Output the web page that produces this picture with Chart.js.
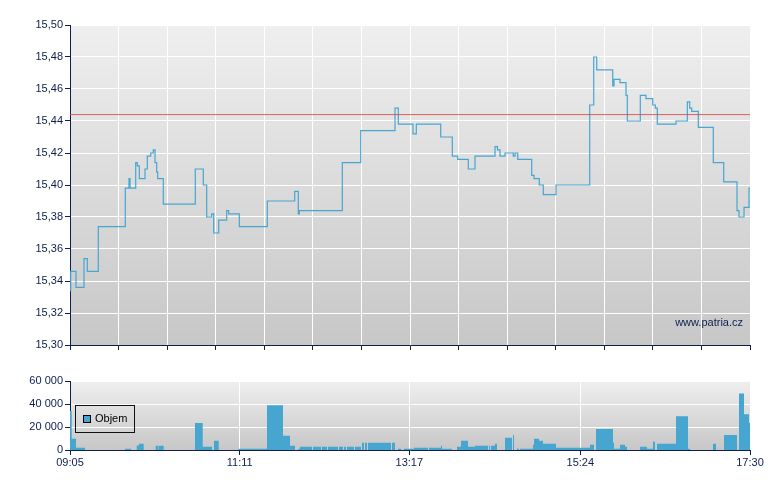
<!DOCTYPE html>
<html>
<head>
<meta charset="utf-8">
<script src="https://cdn.jsdelivr.net/npm/chart.js@4.4.0/dist/chart.umd.min.js"></script>
<style>
  body { margin: 0; background: #fff; }
  #wrap { position: relative; width: 780px; height: 490px; font-family: "Liberation Sans", Arial, sans-serif; }
  canvas { position: absolute; left: 0; }
  #legend { position: absolute; left: 75px; top: 405px; width: 58px; height: 26px; border: 1px solid #111; font-size: 11px; color: #000; }
  #legend span.box { position: absolute; left: 7px; top: 9px; width: 6px; height: 6px; background: #46a6d0; border: 1px solid #000; }
  #legend span.txt { position: absolute; left: 19px; top: 6px; }
  #source { position: absolute; right: 37px; top: 316px; font-size: 11px; color: #0c1f4f; }
</style>
</head>
<body>
<div id="wrap">
  <canvas id="priceChart" width="780" height="360" style="top:0"></canvas>
  <canvas id="volChart" width="780" height="130" style="top:360px"></canvas>
  <div id="legend"><span class="box"></span><span class="txt">Objem</span></div>
  <div id="source">www.patria.cz</div>
</div>
<script>
// kurz - casy zmen a ceny
var priceTimes = [
  "09:05:00", "09:05:31", "09:09:27", "09:15:24", "09:17:51", "09:26:01", "09:46:04", "09:48:49",
  "09:49:34", "09:53:48", "09:54:59", "09:56:28", "10:00:42", "10:02:24", "10:04:56", "10:06:52",
  "10:08:08", "10:09:23", "10:10:08", "10:14:17", "10:38:03", "10:44:00", "10:46:31", "10:50:14",
  "10:51:43", "10:55:26", "11:01:22", "11:02:52", "11:10:44", "11:31:32", "11:51:53", "11:54:33",
  "11:55:18", "12:27:14", "12:40:54", "13:06:22", "13:08:49", "13:19:44", "13:22:11", "13:40:19",
  "13:48:55", "13:52:56", "14:00:48", "14:05:47", "14:20:38", "14:22:29", "14:24:21", "14:28:04",
  "14:34:13", "14:35:29", "14:37:30", "14:47:53", "14:49:36", "14:53:32", "14:56:30", "15:05:56",
  "15:30:58", "15:33:56", "15:36:10", "15:48:03", "15:49:01", "15:53:28", "15:57:55", "15:58:53",
  "16:08:32", "16:12:46", "16:17:45", "16:19:41", "16:21:10", "16:35:03", "16:43:27", "16:45:14",
  "16:46:43", "16:51:37", "17:02:45", "17:10:29", "17:20:21", "17:21:50", "17:25:33", "17:29:16",
  "17:30:00"
];
var prices = [
  15.334, 15.346, 15.336, 15.354, 15.346, 15.374, 15.398, 15.404,
  15.398, 15.414, 15.412, 15.404, 15.410, 15.418, 15.420, 15.422,
  15.414, 15.408, 15.404, 15.388, 15.410, 15.400, 15.380, 15.382,
  15.370, 15.378, 15.384, 15.382, 15.374, 15.390, 15.396, 15.382,
  15.384, 15.414, 15.434, 15.448, 15.438, 15.432, 15.438, 15.430,
  15.418, 15.416, 15.410, 15.418, 15.424, 15.422, 15.418, 15.420,
  15.418, 15.420, 15.416, 15.406, 15.404, 15.400, 15.394, 15.400,
  15.450, 15.480, 15.472, 15.462, 15.466, 15.464, 15.456, 15.440,
  15.456, 15.454, 15.450, 15.448, 15.438, 15.440, 15.452, 15.448,
  15.446, 15.436, 15.414, 15.402, 15.384, 15.380, 15.386, 15.398,
  15.398
];
var prevClose = 15.444;

// objem obchodu
var volTimes = [
  "09:05:00", "09:06:16", "09:09:27", "09:16:08", "09:45:51", "09:50:18", "09:54:32", "09:56:15",
  "09:59:44", "10:08:39", "10:10:44", "10:11:06", "10:14:35", "10:37:50", "10:43:33", "10:50:28",
  "10:51:57", "10:55:26", "11:10:08", "11:31:18", "11:43:11", "11:48:23", "11:52:06", "11:54:33",
  "11:55:49", "12:04:43", "12:05:28", "12:11:24", "12:12:09", "12:15:52", "12:16:36", "12:24:02",
  "12:24:47", "12:27:45", "12:28:29", "12:29:59", "12:30:43", "12:35:55", "12:36:40", "12:41:07",
  "12:41:52", "12:43:21", "12:44:05", "12:45:34", "12:46:19", "13:03:24", "13:04:08", "13:06:22",
  "13:08:36", "13:10:49", "13:13:03", "13:20:29", "13:30:53", "13:31:37", "13:40:32", "13:41:16",
  "13:48:42", "13:52:25", "13:55:23", "14:00:35", "14:05:47", "14:15:26", "14:16:11", "14:16:55",
  "14:17:40", "14:20:38", "14:22:07", "14:28:04", "14:33:16", "14:34:01", "14:34:45", "14:36:59",
  "14:38:28", "14:39:12", "14:48:51", "14:49:36", "14:53:18", "14:56:17", "15:05:56", "15:31:11",
  "15:34:09", "15:35:38", "15:48:16", "15:49:01", "15:53:28", "15:57:11", "15:58:40", "16:08:19",
  "16:13:31", "16:17:58", "16:19:28", "16:20:57", "16:35:03", "16:43:58", "16:45:27", "17:02:32",
  "17:04:46", "17:10:42", "17:20:21", "17:21:50", "17:25:33", "17:29:16", "17:30:00"
];
var volumes = [
  34000, 9700, 2000, 0, 1100, 0, 4000, 5400,
  0, 3700, 0, 3700, 0, 23400, 2900, 0,
  8000, 0, 1100, 38900, 12300, 3700, 0, 1100,
  2900, 0, 2900, 0, 2900, 0, 2900, 0,
  2900, 0, 2900, 0, 2900, 0, 2900, 0,
  6300, 0, 6300, 0, 6300, 0, 6300, 0,
  1100, 0, 1100, 2000, 0, 2000, 3700, 1100,
  0, 2900, 8000, 2900, 3700, 0, 3700, 0,
  3700, 5400, 0, 10600, 0, 13100, 0, 1100,
  0, 1100, 4600, 9700, 8000, 5400, 2000, 4600,
  0, 18300, 6300, 1100, 4600, 2900, 0, 2900,
  1100, 7100, 0, 5400, 29400, 1100, 0, 5400,
  0, 13100, 0, 49100, 31100, 23400, 23400
];

var timeLabels = ["09:05", "11:11", "13:17", "15:24", "17:30"];

var navy = "#0c1f4f";
var blue = "#46a6d0";
var fontDef = { family: "'Liberation Sans', Arial, sans-serif", size: 11 };

function toMin(t) {
  var p = t.split(":");
  return parseInt(p[0]) * 60 + parseInt(p[1]) + (p[2] ? parseInt(p[2]) / 60 : 0) - (9 * 60 + 5);
}

var dayLen = toMin(timeLabels[timeLabels.length - 1]);

function points(ts, vs) {
  var out = [];
  for (var i = 0; i < ts.length; i++) {
    out.push({ x: toMin(ts[i]), y: vs[i] });
  }
  return out;
}

var bgGradient = {
  id: "bgGradient",
  beforeDraw: function (chart) {
    var a = chart.chartArea;
    var ctx = chart.ctx;
    var g = ctx.createLinearGradient(0, a.top, 0, a.bottom);
    g.addColorStop(0, "#efefef");
    g.addColorStop(1, "#c7c7c7");
    ctx.save();
    ctx.fillStyle = g;
    ctx.fillRect(a.left, a.top, a.right - a.left, a.bottom - a.top);
    ctx.restore();
  }
};

Chart.defaults.font = fontDef;
Chart.defaults.color = navy;

// graf kurzu
new Chart(document.getElementById("priceChart").getContext("2d"), {
  type: "line",
  data: {
    datasets: [
      {
        data: [{ x: 0, y: prevClose }, { x: dayLen, y: prevClose }],
        borderColor: "rgba(214, 70, 70, 0.85)",
        borderWidth: 1,
        pointRadius: 0,
      },
      {
        data: points(priceTimes, prices),
        stepped: true,
        borderColor: blue,
        borderWidth: 1.2,
        pointRadius: 0,
      },
    ],
  },
  options: {
    responsive: false,
    devicePixelRatio: 1,
    animation: false,
    layout: { padding: { top: 25, right: 30, left: 0, bottom: 0 } },
    plugins: { legend: { display: false }, tooltip: { enabled: false } },
    scales: {
      x: {
        type: "linear",
        min: 0,
        max: dayLen,
        afterBuildTicks: function (scale) {
          var t = [];
          for (var i = 0; i <= 14; i++) t.push({ value: (dayLen * i) / 14 });
          scale.ticks = t;
        },
        afterFit: function (scale) { scale.height = 15; },
        ticks: { callback: function () { return ""; } },
        grid: { color: "#ffffff", tickColor: navy, tickLength: 5 },
        border: { color: navy },
      },
      y: {
        min: 15.3,
        max: 15.5,
        afterBuildTicks: function (scale) {
          var t = [];
          for (var i = 0; i <= 10; i++) t.push({ value: 15.3 + i * 0.02 });
          scale.ticks = t;
        },
        afterFit: function (scale) { scale.width = 70; },
        ticks: {
          padding: 2,
          callback: function (v) { return v.toFixed(2).replace(".", ","); },
        },
        grid: { color: "#ffffff", tickColor: navy, tickLength: 5 },
        border: { color: navy },
      },
    },
  },
  plugins: [bgGradient],
});

// graf objemu
new Chart(document.getElementById("volChart").getContext("2d"), {
  type: "line",
  data: {
    datasets: [
      {
        label: "Objem",
        data: points(volTimes, volumes),
        stepped: true,
        fill: "origin",
        backgroundColor: blue,
        borderWidth: 0,
        pointRadius: 0,
      },
    ],
  },
  options: {
    responsive: false,
    devicePixelRatio: 1,
    animation: false,
    layout: { padding: { top: 21, right: 30, left: 0, bottom: 0 } },
    plugins: { legend: { display: false }, tooltip: { enabled: false } },
    scales: {
      x: {
        type: "linear",
        min: 0,
        max: dayLen,
        afterBuildTicks: function (scale) {
          scale.ticks = timeLabels.map(function (l) { return { value: toMin(l) }; });
        },
        afterFit: function (scale) { scale.height = 40; },
        ticks: {
          maxRotation: 0,
          padding: 1,
          callback: function (v, i) { return timeLabels[i]; },
        },
        grid: { color: "#ffffff", tickColor: navy, tickLength: 5 },
        border: { color: navy },
      },
      y: {
        min: 0,
        max: 60000,
        afterBuildTicks: function (scale) {
          scale.ticks = [0, 20000, 40000, 60000].map(function (v) { return { value: v }; });
        },
        afterFit: function (scale) { scale.width = 70; },
        ticks: {
          padding: 2,
          callback: function (v) { return String(v).replace(/\B(?=(\d{3})+(?!\d))/g, " "); },
        },
        grid: { color: "#ffffff", tickColor: navy, tickLength: 5 },
        border: { color: navy },
      },
    },
  },
  plugins: [bgGradient],
});
</script>
</body>
</html>
